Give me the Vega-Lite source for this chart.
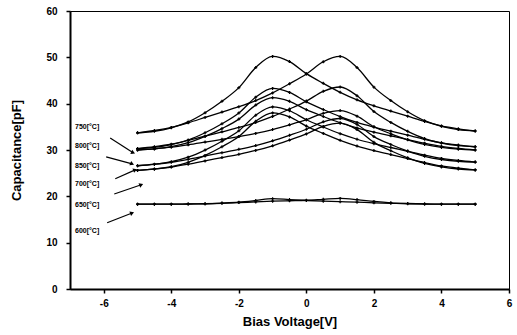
{
  "$schema": "https://vega.github.io/schema/vega-lite/v6.json",
  "width": 439,
  "height": 278,
  "autosize": {"type": "none"},
  "padding": {"left": 70, "top": 11, "right": 8, "bottom": 46},
  "background": "white",
  "config": {
    "view": {"stroke": "black", "strokeWidth": 1},
    "axis": {
      "grid": false,
      "domainColor": "black",
      "domainWidth": 2,
      "tickColor": "black",
      "tickWidth": 1.5,
      "tickSize": 4,
      "labelFont": "Liberation Sans",
      "labelFontWeight": "bold",
      "labelFontSize": 10,
      "labelColor": "black",
      "titleFont": "Liberation Sans",
      "titleFontWeight": "bold",
      "titleFontSize": 13,
      "titleColor": "black"
    }
  },
  "datasets": {
    "cv": [
      {"s":"750F","v":-5,"c":33.7},{"s":"750F","v":-4.5,"c":34.05},{"s":"750F","v":-4,"c":34.8},{"s":"750F","v":-3.5,"c":36.05},{"s":"750F","v":-3,"c":38.03},{"s":"750F","v":-2.5,"c":40.5},{"s":"750F","v":-2,"c":43.46},{"s":"750F","v":-1.5,"c":47.8},{"s":"750F","v":-1,"c":50.2},{"s":"750F","v":-0.5,"c":49.08},{"s":"750F","v":0,"c":46.48},{"s":"750F","v":0.5,"c":44.38},{"s":"750F","v":1,"c":42.44},{"s":"750F","v":1.5,"c":40.82},{"s":"750F","v":2,"c":39.54},{"s":"750F","v":2.5,"c":38.41},{"s":"750F","v":3,"c":37.29},{"s":"750F","v":3.5,"c":36.16},{"s":"750F","v":4,"c":35.2},{"s":"750F","v":4.5,"c":34.57},{"s":"750F","v":5,"c":34.1},
      {"s":"750R","v":-5,"c":33.7},{"s":"750R","v":-4.5,"c":34.21},{"s":"750R","v":-4,"c":34.88},{"s":"750R","v":-3.5,"c":35.87},{"s":"750R","v":-3,"c":37.03},{"s":"750R","v":-2.5,"c":38.19},{"s":"750R","v":-2,"c":39.35},{"s":"750R","v":-1.5,"c":40.67},{"s":"750R","v":-1,"c":42.32},{"s":"750R","v":-0.5,"c":44.29},{"s":"750R","v":0,"c":46.42},{"s":"750R","v":0.5,"c":49.04},{"s":"750R","v":1,"c":50.2},{"s":"750R","v":1.5,"c":47.8},{"s":"750R","v":2,"c":43.57},{"s":"750R","v":2.5,"c":40.67},{"s":"750R","v":3,"c":38.25},{"s":"750R","v":3.5,"c":36.32},{"s":"750R","v":4,"c":35.12},{"s":"750R","v":4.5,"c":34.41},{"s":"750R","v":5,"c":34.1},
      {"s":"800F","v":-5,"c":30.3},{"s":"800F","v":-4.5,"c":30.58},{"s":"800F","v":-4,"c":31.17},{"s":"800F","v":-3.5,"c":32.16},{"s":"800F","v":-3,"c":33.72},{"s":"800F","v":-2.5,"c":35.66},{"s":"800F","v":-2,"c":38.0},{"s":"800F","v":-1.5,"c":41.4},{"s":"800F","v":-1,"c":43.3},{"s":"800F","v":-0.5,"c":42.42},{"s":"800F","v":0,"c":40.39},{"s":"800F","v":0.5,"c":38.74},{"s":"800F","v":1,"c":37.22},{"s":"800F","v":1.5,"c":35.95},{"s":"800F","v":2,"c":34.95},{"s":"800F","v":2.5,"c":34.07},{"s":"800F","v":3,"c":33.19},{"s":"800F","v":3.5,"c":32.31},{"s":"800F","v":4,"c":31.56},{"s":"800F","v":4.5,"c":31.07},{"s":"800F","v":5,"c":30.7},
      {"s":"800R","v":-5,"c":30.3},{"s":"800R","v":-4.5,"c":30.71},{"s":"800R","v":-4,"c":31.25},{"s":"800R","v":-3.5,"c":32.06},{"s":"800R","v":-3,"c":32.99},{"s":"800R","v":-2.5,"c":33.93},{"s":"800R","v":-2,"c":34.86},{"s":"800R","v":-1.5,"c":35.93},{"s":"800R","v":-1,"c":37.25},{"s":"800R","v":-0.5,"c":38.84},{"s":"800R","v":0,"c":40.56},{"s":"800R","v":0.5,"c":42.67},{"s":"800R","v":1,"c":43.6},{"s":"800R","v":1.5,"c":41.7},{"s":"800R","v":2,"c":38.29},{"s":"800R","v":2.5,"c":35.95},{"s":"800R","v":3,"c":34.02},{"s":"800R","v":3.5,"c":32.47},{"s":"800R","v":4,"c":31.51},{"s":"800R","v":4.5,"c":30.94},{"s":"800R","v":5,"c":30.7},
      {"s":"850F","v":-5,"c":30.0},{"s":"850F","v":-4.5,"c":30.23},{"s":"850F","v":-4,"c":30.73},{"s":"850F","v":-3.5,"c":31.58},{"s":"850F","v":-3,"c":32.94},{"s":"850F","v":-2.5,"c":34.63},{"s":"850F","v":-2,"c":36.67},{"s":"850F","v":-1.5,"c":39.7},{"s":"850F","v":-1,"c":41.3},{"s":"850F","v":-0.5,"c":40.51},{"s":"850F","v":0,"c":38.7},{"s":"850F","v":0.5,"c":37.23},{"s":"850F","v":1,"c":35.88},{"s":"850F","v":1.5,"c":34.75},{"s":"850F","v":2,"c":33.84},{"s":"850F","v":2.5,"c":33.05},{"s":"850F","v":3,"c":32.26},{"s":"850F","v":3.5,"c":31.47},{"s":"850F","v":4,"c":30.79},{"s":"850F","v":4.5,"c":30.34},{"s":"850F","v":5,"c":30.0},
      {"s":"850R","v":-5,"c":30.0},{"s":"850R","v":-4.5,"c":30.26},{"s":"850R","v":-4,"c":30.6},{"s":"850R","v":-3.5,"c":31.11},{"s":"850R","v":-3,"c":31.7},{"s":"850R","v":-2.5,"c":32.3},{"s":"850R","v":-2,"c":32.89},{"s":"850R","v":-1.5,"c":33.57},{"s":"850R","v":-1,"c":34.42},{"s":"850R","v":-0.5,"c":35.44},{"s":"850R","v":0,"c":36.55},{"s":"850R","v":0.5,"c":37.91},{"s":"850R","v":1,"c":38.5},{"s":"850R","v":1.5,"c":37.3},{"s":"850R","v":2,"c":35.02},{"s":"850R","v":2.5,"c":33.49},{"s":"850R","v":3,"c":32.21},{"s":"850R","v":3.5,"c":31.19},{"s":"850R","v":4,"c":30.55},{"s":"850R","v":4.5,"c":30.17},{"s":"850R","v":5,"c":30.0},
      {"s":"700F","v":-5,"c":26.6},{"s":"700F","v":-4.5,"c":26.89},{"s":"700F","v":-4,"c":27.48},{"s":"700F","v":-3.5,"c":28.45},{"s":"700F","v":-3,"c":29.98},{"s":"700F","v":-2.5,"c":31.88},{"s":"700F","v":-2,"c":34.14},{"s":"700F","v":-1.5,"c":37.5},{"s":"700F","v":-1,"c":39.3},{"s":"700F","v":-0.5,"c":38.47},{"s":"700F","v":0,"c":36.53},{"s":"700F","v":0.5,"c":34.96},{"s":"700F","v":1,"c":33.52},{"s":"700F","v":1.5,"c":32.32},{"s":"700F","v":2,"c":31.37},{"s":"700F","v":2.5,"c":30.54},{"s":"700F","v":3,"c":29.72},{"s":"700F","v":3.5,"c":28.89},{"s":"700F","v":4,"c":28.19},{"s":"700F","v":4.5,"c":27.73},{"s":"700F","v":5,"c":27.4},
      {"s":"700R","v":-5,"c":26.6},{"s":"700R","v":-4.5,"c":26.93},{"s":"700R","v":-4,"c":27.36},{"s":"700R","v":-3.5,"c":27.98},{"s":"700R","v":-3,"c":28.7},{"s":"700R","v":-2.5,"c":29.42},{"s":"700R","v":-2,"c":30.14},{"s":"700R","v":-1.5,"c":30.96},{"s":"700R","v":-1,"c":31.97},{"s":"700R","v":-0.5,"c":33.18},{"s":"700R","v":0,"c":34.48},{"s":"700R","v":0.5,"c":36.08},{"s":"700R","v":1,"c":36.8},{"s":"700R","v":1.5,"c":35.5},{"s":"700R","v":2,"c":32.89},{"s":"700R","v":2.5,"c":31.19},{"s":"700R","v":3,"c":29.77},{"s":"700R","v":3.5,"c":28.64},{"s":"700R","v":4,"c":27.95},{"s":"700R","v":4.5,"c":27.55},{"s":"700R","v":5,"c":27.4},
      {"s":"650F","v":-5,"c":25.6},{"s":"650F","v":-4.5,"c":25.86},{"s":"650F","v":-4,"c":26.41},{"s":"650F","v":-3.5,"c":27.35},{"s":"650F","v":-3,"c":28.83},{"s":"650F","v":-2.5,"c":30.7},{"s":"650F","v":-2,"c":32.92},{"s":"650F","v":-1.5,"c":36.2},{"s":"650F","v":-1,"c":38.0},{"s":"650F","v":-0.5,"c":37.14},{"s":"650F","v":0,"c":35.17},{"s":"650F","v":0.5,"c":33.57},{"s":"650F","v":1,"c":32.09},{"s":"650F","v":1.5,"c":30.86},{"s":"650F","v":2,"c":29.87},{"s":"650F","v":2.5,"c":29.02},{"s":"650F","v":3,"c":28.15},{"s":"650F","v":3.5,"c":27.3},{"s":"650F","v":4,"c":26.56},{"s":"650F","v":4.5,"c":26.07},{"s":"650F","v":5,"c":25.7},
      {"s":"650R","v":-5,"c":25.6},{"s":"650R","v":-4.5,"c":25.91},{"s":"650R","v":-4,"c":26.32},{"s":"650R","v":-3.5,"c":26.94},{"s":"650R","v":-3,"c":27.65},{"s":"650R","v":-2.5,"c":28.37},{"s":"650R","v":-2,"c":29.08},{"s":"650R","v":-1.5,"c":29.9},{"s":"650R","v":-1,"c":30.91},{"s":"650R","v":-0.5,"c":32.14},{"s":"650R","v":0,"c":33.46},{"s":"650R","v":0.5,"c":35.09},{"s":"650R","v":1,"c":35.8},{"s":"650R","v":1.5,"c":34.4},{"s":"650R","v":2,"c":31.65},{"s":"650R","v":2.5,"c":29.84},{"s":"650R","v":3,"c":28.32},{"s":"650R","v":3.5,"c":27.11},{"s":"650R","v":4,"c":26.35},{"s":"650R","v":4.5,"c":25.9},{"s":"650R","v":5,"c":25.7},
      {"s":"600F","v":-5,"c":18.3},{"s":"600F","v":-4.5,"c":18.3},{"s":"600F","v":-4,"c":18.3},{"s":"600F","v":-3.5,"c":18.35},{"s":"600F","v":-3,"c":18.4},{"s":"600F","v":-2.5,"c":18.55},{"s":"600F","v":-2,"c":18.75},{"s":"600F","v":-1.5,"c":19.1},{"s":"600F","v":-1,"c":19.5},{"s":"600F","v":-0.5,"c":19.3},{"s":"600F","v":0,"c":19.1},{"s":"600F","v":0.5,"c":18.95},{"s":"600F","v":1,"c":18.85},{"s":"600F","v":1.5,"c":18.75},{"s":"600F","v":2,"c":18.6},{"s":"600F","v":2.5,"c":18.5},{"s":"600F","v":3,"c":18.4},{"s":"600F","v":3.5,"c":18.35},{"s":"600F","v":4,"c":18.3},{"s":"600F","v":4.5,"c":18.3},{"s":"600F","v":5,"c":18.3},
      {"s":"600R","v":-5,"c":18.3},{"s":"600R","v":-4.5,"c":18.3},{"s":"600R","v":-4,"c":18.3},{"s":"600R","v":-3.5,"c":18.35},{"s":"600R","v":-3,"c":18.4},{"s":"600R","v":-2.5,"c":18.5},{"s":"600R","v":-2,"c":18.65},{"s":"600R","v":-1.5,"c":18.8},{"s":"600R","v":-1,"c":18.95},{"s":"600R","v":-0.5,"c":19.05},{"s":"600R","v":0,"c":19.15},{"s":"600R","v":0.5,"c":19.35},{"s":"600R","v":1,"c":19.55},{"s":"600R","v":1.5,"c":19.3},{"s":"600R","v":2,"c":18.9},{"s":"600R","v":2.5,"c":18.6},{"s":"600R","v":3,"c":18.45},{"s":"600R","v":3.5,"c":18.35},{"s":"600R","v":4,"c":18.3},{"s":"600R","v":4.5,"c":18.3},{"s":"600R","v":5,"c":18.3}
    ],
    "labels": [
      {"t":"750[°C]","v":-6.85,"c":35.0},
      {"t":"800[°C]","v":-6.85,"c":30.9},
      {"t":"850[°C]","v":-6.85,"c":26.6},
      {"t":"700[°C]","v":-6.85,"c":22.7},
      {"t":"650[°C]","v":-6.85,"c":18.1},
      {"t":"600[°C]","v":-6.85,"c":12.5}
    ],
    "arrows": [
      {"t":"750","g":"a","v":-5.81,"c":32.6,"v2":-5.13,"c2":29.4},
      {"t":"800","g":"a","v":-5.93,"c":28.5,"v2":-5.16,"c2":27.0},
      {"t":"850","g":"b","v":-5.66,"c":23.8,"v2":-5.07,"c2":25.7},
      {"t":"700","g":"b","v":-5.69,"c":20.5,"v2":-4.89,"c2":22.5},
      {"t":"600","g":"b","v":-5.9,"c":14.3,"v2":-5.16,"c2":16.4}
    ]
  },
  "layer": [
    {
      "data": {"name": "cv"},
      "mark": {"type": "line", "color": "black", "strokeWidth": 1.3, "interpolate": "monotone"},
      "encoding": {
        "x": {"field": "v", "type": "quantitative", "scale": {"domain": [-7, 6], "nice": false, "zero": false},
              "axis": {"title": "Bias Voltage[V]", "values": [-6,-5,-4,-3,-2,-1,0,1,2,3,4,5,6], "labelExpr": "datum.value % 2 == 0 ? '' + datum.value : ''", "labelPadding": 5, "titlePadding": 7, "labelFlush": false}},
        "y": {"field": "c", "type": "quantitative", "scale": {"domain": [0, 60], "nice": false},
              "axis": {"title": "Capacitance[pF]", "values": [0,5,10,15,20,25,30,35,40,45,50,55,60], "labelExpr": "datum.value % 10 == 0 ? datum.label : ''", "labelPadding": 9, "titlePadding": 22, "labelFlush": false}},
        "detail": {"field": "s", "type": "nominal"}
      }
    },
    {
      "data": {"name": "cv"},
      "mark": {"type": "point", "shape": "cross", "size": 9, "filled": true, "color": "black", "opacity": 1},
      "encoding": {
        "x": {"field": "v", "type": "quantitative"},
        "y": {"field": "c", "type": "quantitative"}
      }
    },
    {
      "data": {"name": "labels"},
      "mark": {"type": "text", "align": "left", "baseline": "middle", "font": "Liberation Sans", "fontWeight": "bold", "fontSize": 7, "color": "black"},
      "encoding": {
        "x": {"field": "v", "type": "quantitative"},
        "y": {"field": "c", "type": "quantitative"},
        "text": {"field": "t"}
      }
    },
    {
      "data": {"name": "arrows"},
      "mark": {"type": "rule", "color": "black", "strokeWidth": 1.2},
      "encoding": {
        "x": {"field": "v", "type": "quantitative"},
        "y": {"field": "c", "type": "quantitative"},
        "x2": {"field": "v2"},
        "y2": {"field": "c2"}
      }
    },
    {
      "data": {"name": "arrows"},
      "transform": [{"filter": "datum.g == 'a'"}],
      "mark": {"type": "point", "shape": "triangle-right", "size": 22, "filled": true, "color": "black", "opacity": 1, "angle": 24},
      "encoding": {
        "x": {"field": "v2", "type": "quantitative"},
        "y": {"field": "c2", "type": "quantitative"}
      }
    },
    {
      "data": {"name": "arrows"},
      "transform": [{"filter": "datum.g == 'b'"}],
      "mark": {"type": "point", "shape": "triangle-right", "size": 22, "filled": true, "color": "black", "opacity": 1, "angle": 339},
      "encoding": {
        "x": {"field": "v2", "type": "quantitative"},
        "y": {"field": "c2", "type": "quantitative"}
      }
    }
  ]
}
